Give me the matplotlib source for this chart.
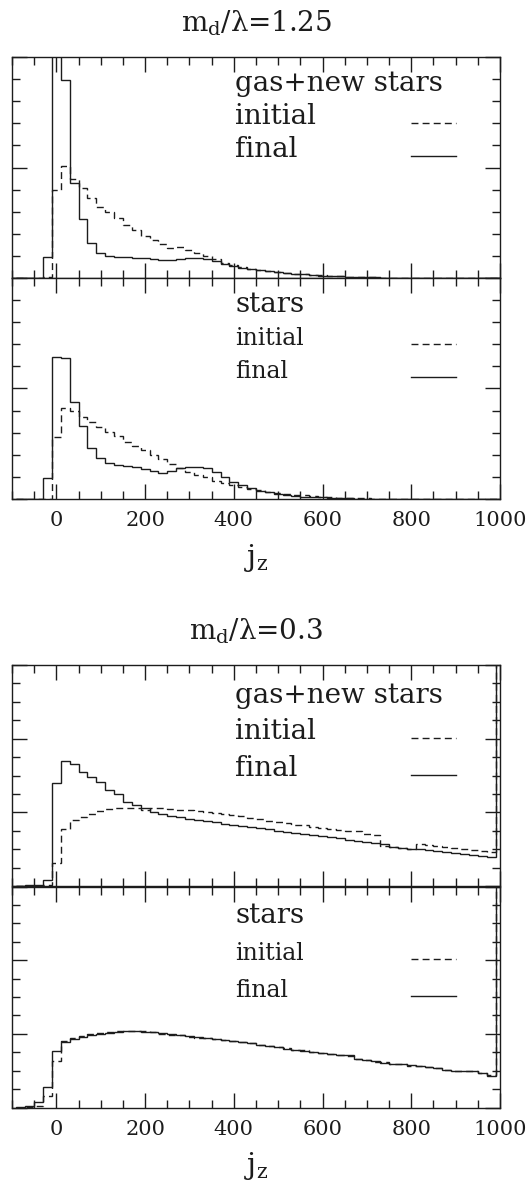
import numpy as np
import matplotlib
matplotlib.use("Agg")
import matplotlib.pyplot as plt
from matplotlib.ticker import MultipleLocator

# j_z histograms, bins of width 20 starting at -90 (centres -80 ... 1000)
bin_start = -90
bin_width = 20

# m_d/lambda = 1.25, gas + new stars
hi_gas_initial = [0, 0, 0, 0.005, 0.400, 0.507, 0.447, 0.409, 0.361, 0.323,
                  0.300, 0.270, 0.238, 0.215, 0.192, 0.172, 0.154, 0.137, 0.140, 0.127,
                  0.113, 0.101, 0.086, 0.069, 0.057, 0.048, 0.042, 0.037, 0.032, 0.028,
                  0.024, 0.020, 0.017, 0.014, 0.012, 0.010, 0.008, 0.006, 0.005, 0.004,
                  0.003, 0.002, 0.002, 0.001, 0.001, 0, 0, 0, 0, 0,
                  0, 0, 0, 0, 0]
hi_gas_final = [0, 0, 0, 0.095, 1.60, 0.896, 0.431, 0.265, 0.157, 0.112,
                0.098, 0.094, 0.094, 0.092, 0.090, 0.087, 0.083, 0.081, 0.086, 0.089,
                0.090, 0.088, 0.079, 0.064, 0.054, 0.047, 0.041, 0.036, 0.031, 0.027,
                0.023, 0.019, 0.016, 0.013, 0.011, 0.009, 0.007, 0.006, 0.005, 0.004,
                0.003, 0.002, 0.002, 0.001, 0.001, 0, 0, 0, 0, 0,
                0, 0, 0, 0, 0]

# m_d/lambda = 1.25, stars
hi_star_initial = [0, 0, 0, 0, 0.280, 0.413, 0.400, 0.370, 0.350, 0.325,
                   0.305, 0.283, 0.260, 0.240, 0.220, 0.197, 0.180, 0.160, 0.140, 0.123,
                   0.110, 0.098, 0.083, 0.072, 0.062, 0.053, 0.046, 0.039, 0.033, 0.028,
                   0.023, 0.019, 0.016, 0.013, 0.010, 0.008, 0.006, 0.005, 0.004, 0.003,
                   0.002, 0.001, 0.001, 0, 0, 0, 0, 0, 0, 0,
                   0, 0, 0, 0, 0]
hi_star_final = [0, 0, 0, 0.097, 0.644, 0.636, 0.440, 0.330, 0.229, 0.184,
                 0.162, 0.154, 0.150, 0.144, 0.136, 0.127, 0.117, 0.127, 0.140, 0.147,
                 0.144, 0.140, 0.120, 0.101, 0.079, 0.064, 0.048, 0.038, 0.030, 0.023,
                 0.018, 0.015, 0.011, 0.009, 0.007, 0.005, 0.004, 0.003, 0.002, 0.002,
                 0.001, 0.001, 0, 0, 0, 0, 0, 0, 0, 0,
                 0, 0, 0, 0, 0]

# m_d/lambda = 0.3, gas + new stars
lo_gas_initial = [0, 0, 0, 0.005, 0.123, 0.308, 0.358, 0.373, 0.391, 0.409,
                  0.416, 0.422, 0.425, 0.422, 0.413, 0.422, 0.422, 0.418, 0.414, 0.411,
                  0.406, 0.403, 0.398, 0.392, 0.383, 0.379, 0.368, 0.363, 0.352, 0.349,
                  0.342, 0.333, 0.330, 0.322, 0.315, 0.310, 0.305, 0.301, 0.296, 0.285,
                  0.277, 0.215, 0.210, 0.205, 0.203, 0.228, 0.222, 0.216, 0.212, 0.207,
                  0.200, 0.195, 0.190, 0.186, 3.0]
lo_gas_final = [0, 0.003, 0.005, 0.033, 0.557, 0.680, 0.662, 0.621, 0.594, 0.567,
                0.521, 0.500, 0.458, 0.440, 0.422, 0.404, 0.391, 0.380, 0.373, 0.366,
                0.358, 0.353, 0.346, 0.339, 0.333, 0.327, 0.321, 0.314, 0.308, 0.301,
                0.295, 0.288, 0.282, 0.276, 0.270, 0.264, 0.258, 0.252, 0.246, 0.240,
                0.233, 0.226, 0.212, 0.206, 0.203, 0.199, 0.194, 0.189, 0.184, 0.179,
                0.174, 0.169, 0.163, 0.159, 3.0]

# m_d/lambda = 0.3, stars
lo_star_initial = [0, 0.002, 0.010, 0.060, 0.250, 0.360, 0.378, 0.390, 0.397, 0.405,
                   0.411, 0.415, 0.417, 0.415, 0.413, 0.410, 0.400, 0.396, 0.394, 0.385,
                   0.380, 0.378, 0.370, 0.365, 0.360, 0.355, 0.350, 0.340, 0.336, 0.326,
                   0.322, 0.312, 0.310, 0.300, 0.298, 0.288, 0.287, 0.280, 0.266, 0.258,
                   0.248, 0.246, 0.236, 0.235, 0.228, 0.226, 0.218, 0.214, 0.204, 0.200,
                   0.198, 0.197, 0.185, 0.175, 3.0]
lo_star_final = [0.003, 0.006, 0.029, 0.114, 0.309, 0.355, 0.373, 0.385, 0.394, 0.401,
                 0.407, 0.411, 0.413, 0.413, 0.411, 0.408, 0.402, 0.397, 0.392, 0.387,
                 0.382, 0.376, 0.372, 0.367, 0.362, 0.356, 0.349, 0.341, 0.334, 0.327,
                 0.320, 0.314, 0.309, 0.302, 0.296, 0.290, 0.286, 0.283, 0.264, 0.256,
                 0.250, 0.244, 0.238, 0.234, 0.230, 0.224, 0.219, 0.213, 0.205, 0.198,
                 0.200, 0.196, 0.186, 0.172, 3.0]

titles = [r"$\mathrm{m_d/\lambda}$=1.25", r"$\mathrm{m_d/\lambda}$=0.3"]
x_ticks = [0, 200, 400, 600, 800, 1000]

plt.rcParams["font.family"] = "DejaVu Serif"
plt.rcParams["mathtext.fontset"] = "dejavuserif"
ink = "#1c1c1c"

W, H = 530, 1188
fig = plt.figure(figsize=(W / 100, H / 100), dpi=100)

edges = bin_start + bin_width * np.arange(len(hi_gas_final) + 1)


def panel(bottom_px, initial, final, ymax, ymajor, head, head_y, sub_y, sub_size, bottom_labels):
    ax = fig.add_axes([12 / W, 1 - bottom_px / H, 488 / W, 221 / H])
    ax.stairs(initial, edges, color=ink, lw=1.0, linestyle=(0, (5, 3)))
    ax.stairs(final, edges, color=ink, lw=1.0)
    ax.set_xlim(-100, 1000)
    ax.set_ylim(0, ymax)
    ax.xaxis.set_major_locator(MultipleLocator(200))
    ax.xaxis.set_minor_locator(MultipleLocator(50))
    ax.yaxis.set_major_locator(MultipleLocator(ymajor))
    ax.yaxis.set_minor_locator(MultipleLocator(0.1))
    ax.tick_params(which="both", direction="in", top=True, right=True,
                   labelleft=False, colors=ink, width=1.0)
    ax.tick_params(which="major", length=11)
    ax.tick_params(which="minor", length=5.5)
    for s in ax.spines.values():
        s.set_color(ink)
        s.set_linewidth(1.0)
    if bottom_labels:
        ax.set_xticks(x_ticks)
        ax.tick_params(axis="x", labelsize=15, pad=9)
        ax.set_xlabel(r"$\mathrm{j_z}$", fontsize=21, labelpad=8, color=ink)
    else:
        ax.tick_params(axis="x", labelbottom=False)

    ax.text(0.457, head_y, head, transform=ax.transAxes, fontsize=20,
            va="baseline", color=ink)
    tr = ax.get_xaxis_transform()
    for lab, y, ls in [("initial", sub_y[0], (0, (5, 3))), ("final", sub_y[1], "-")]:
        ax.text(0.457, y, lab, transform=ax.transAxes, fontsize=sub_size,
                va="baseline", color=ink)
        ax.plot([800, 900], [y + 0.004, y + 0.004], transform=tr, color=ink,
                lw=1.0, linestyle=ls)
    return ax


panel(278, hi_gas_initial, hi_gas_final, 1.0, 0.5, "gas+new stars", 0.848, (0.697, 0.549), 20, False)
panel(499, hi_star_initial, hi_star_final, 1.0, 0.5, "stars", 0.847, (0.697, 0.546), 17, True)
panel(886, lo_gas_initial, lo_gas_final, 1.2, 0.4, "gas+new stars", 0.829, (0.664, 0.498), 20, False)
panel(1107.5, lo_star_initial, lo_star_final, 1.2, 0.4, "stars", 0.833, (0.667, 0.499), 17, True)

fig.text(256 / W, 1 - 31 / H, titles[0], ha="center", va="baseline", fontsize=20, color=ink)
fig.text(256 / W, 1 - 639 / H, titles[1], ha="center", va="baseline", fontsize=20, color=ink)

fig.savefig("out.png", dpi=100, facecolor="white")
